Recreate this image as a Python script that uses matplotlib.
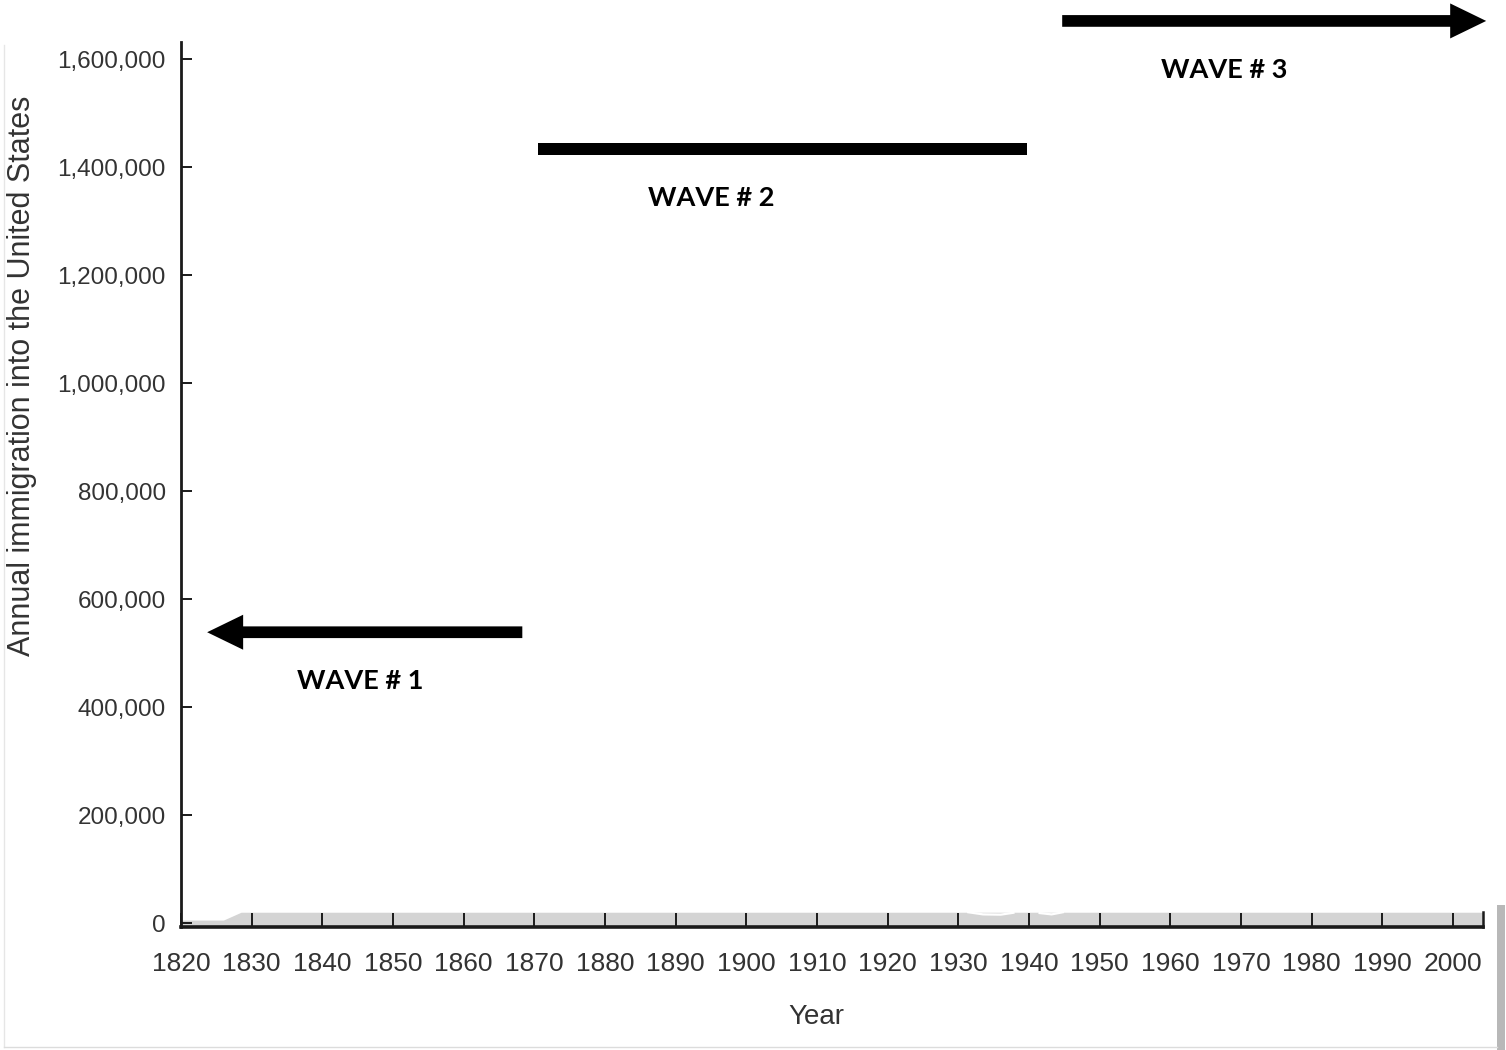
import matplotlib.pyplot as plt
from matplotlib import font_manager
from matplotlib.lines import Line2D
from matplotlib.patches import Rectangle

# --- data ------------------------------------------------------------------
band_years = [1820, 1826, 1828.5, 2004.2]
band_values = [6000, 6000, 20500, 20500]

# erased-data remnant (white squiggle) around the 1930s
squiggle_a_years = [1931.4, 1933.5, 1936.0, 1937.8]
squiggle_a_values = [20500, 16500, 16000, 19500]
squiggle_b_years = [1941.5, 1943.2, 1944.8]
squiggle_b_values = [19000, 16500, 20500]

wave_labels = ["WAVE # 1", "WAVE # 2", "WAVE # 3"]
wave_start = [1868.3, 1870.5, 1944.7]
wave_end = [1823.7, 1939.7, 2004.7]
wave_level = [539000, 1434000, 1671000]
wave_has_head = [True, False, True]
wave_label_year = [1845.3, 1895.0, 1967.6]

x_ticks = list(range(1820, 2001, 10))
y_ticks = list(range(0, 1600001, 200000))

# --- fonts -------------------------------------------------------------------
installed = {f.name for f in font_manager.fontManager.ttflist}
narrow = "Liberation Sans Narrow" if "Liberation Sans Narrow" in installed else None
plain = "Liberation Sans"
x_font = narrow or plain
x_size = 21 if narrow else 19

text_col = "#333333"

fig = plt.figure(figsize=(15.06, 10.5), dpi=100)
fig.patch.set_facecolor("white")
ax = fig.add_axes([181 / 1506, 1 - 927 / 1050, (1483 - 181) / 1506, (927 - 42) / 1050])

ax.set_xlim(1820, 2004.25)
ax.set_ylim(-6850, 1632000)

ax.fill_between(band_years, band_values, -6850, color="#d4d4d4", lw=0, zorder=1)
ax.plot(squiggle_a_years, squiggle_a_values, color="white", lw=1.6, zorder=2)
ax.plot(squiggle_b_years, squiggle_b_values, color="white", lw=1.6, zorder=2)

ax.spines["top"].set_visible(False)
ax.spines["left"].set_linewidth(2.0)
ax.spines["left"].set_color("#1a1a1a")
ax.spines["bottom"].set_linewidth(2.6)
ax.spines["bottom"].set_color("#1a1a1a")
ax.spines["right"].set_bounds(-6850, 20500)
ax.spines["right"].set_linewidth(1.8)
ax.spines["right"].set_color("#1a1a1a")

ax.set_xticks(x_ticks)
ax.set_xticklabels([str(y) for y in x_ticks], family=x_font, fontsize=x_size, color=text_col)
ax.set_yticks(y_ticks)
ax.set_yticklabels([f"{v:,}" for v in y_ticks], family=plain, fontsize=17.5, color=text_col)
ax.tick_params(axis="x", direction="in", length=10, width=1.4, color="#1a1a1a", pad=18)
ax.tick_params(axis="y", direction="in", length=8, width=1.4, color="#1a1a1a", pad=11)

ax.set_xlabel("Year", family=x_font, fontsize=x_size + 1, color=text_col)
ax.xaxis.set_label_coords(816 / 1506, 1 - 1017 / 1050, transform=fig.transFigure)
ax.xaxis.label.set_va("center")
ax.set_ylabel("Annual immigration into the United States", family=plain, fontsize=22, color=text_col)
ax.yaxis.set_label_coords(22 / 1506, 1 - 376 / 1050, transform=fig.transFigure)
ax.yaxis.label.set_va("center")

# wave markers
px_y = 200000 / 108  # data units per pixel on y
px_x = 1 / 7.067     # years per pixel on x
for label, x0, x1, lvl, head, lx in zip(wave_labels, wave_start, wave_end, wave_level,
                                         wave_has_head, wave_label_year):
    if head:
        ax.arrow(x0, lvl, x1 - x0, 0, width=11.7 * px_y, head_width=35 * px_y,
                 head_length=36 * px_x, length_includes_head=True,
                 color="black", lw=0, clip_on=False, zorder=5)
    else:
        ax.add_patch(Rectangle((x0, lvl - 5.85 * px_y), x1 - x0, 11.7 * px_y,
                               color="black", lw=0, clip_on=False, zorder=5))
    ax.text(lx, lvl - 49 * px_y, label, family="Lato", fontweight="bold", fontsize=19.5,
            ha="center", va="center", color="black", clip_on=False)

# scanned-page frame and shadow
fig.add_artist(Line2D([4 / 1506, 4 / 1506], [1 - 45 / 1050, 1 - 1047 / 1050],
                      transform=fig.transFigure, color="#e6e6e6", lw=1))
fig.add_artist(Line2D([4 / 1506, 1497 / 1506], [1 - 1047 / 1050, 1 - 1047 / 1050],
                      transform=fig.transFigure, color="#dcdcdc", lw=1))
fig.add_artist(Rectangle((1497 / 1506, 0), 8 / 1506, (1050 - 905) / 1050,
                         transform=fig.transFigure, color="#b8b8b8", lw=0))

fig.savefig("out.png", dpi=100)
